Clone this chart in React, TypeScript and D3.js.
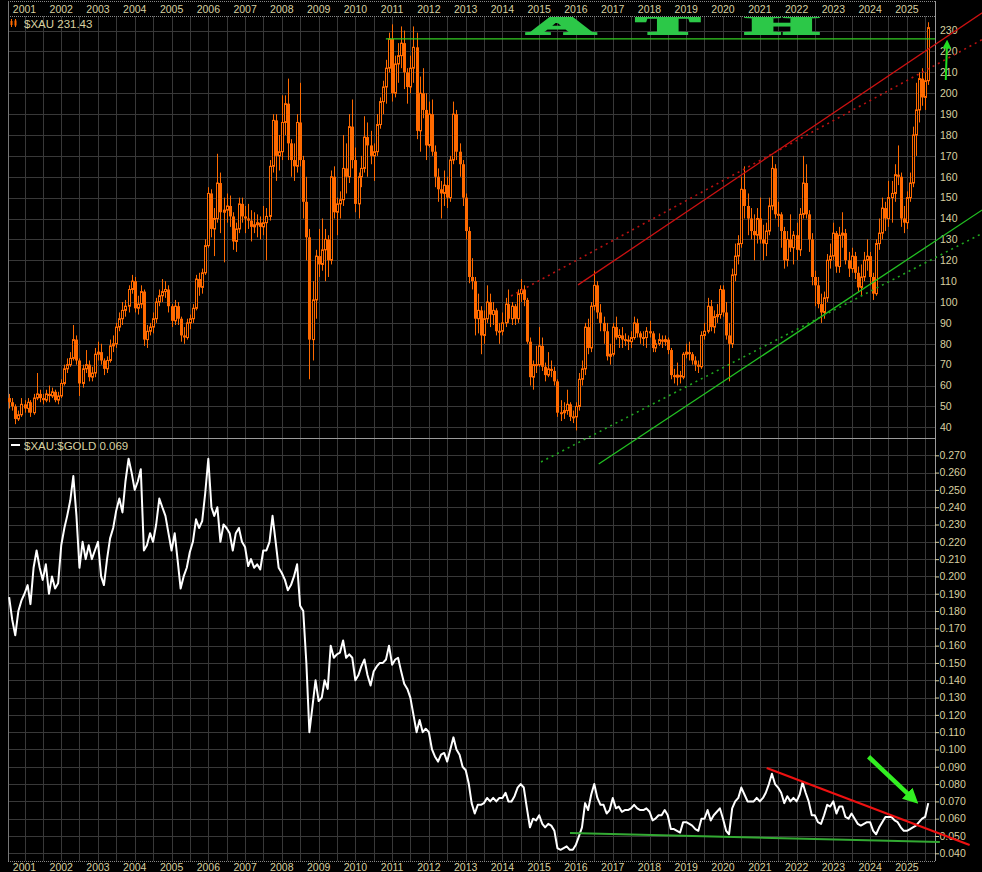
import * as d3 from 'd3';
import { useEffect } from 'react';

// monthly $XAU candles, Aug 2000 .. Aug 2025 (open = previous close)
const xauFirstOpen = 54;
const xauClose = [
  52, 50, 44, 46, 51,
  49, 52, 47, 54, 56, 54, 53, 56, 55, 57, 53, 55,
  61, 68, 70, 73, 82, 72, 61, 68, 70, 64, 66, 75,
  76, 72, 68, 72, 79, 80, 88, 92, 96, 98, 106, 110,
  97, 99, 105, 82, 86, 88, 92, 100, 103, 105, 106, 98,
  91, 98, 92, 84, 83, 90, 92, 97, 111, 107, 114, 127,
  152, 135, 140, 157, 143, 144, 146, 141, 129, 135, 147, 141,
  140, 139, 136, 137, 138, 136, 138, 141, 165, 187, 170, 172,
  186, 195, 176, 168, 165, 186, 168, 148, 131, 82, 101, 122,
  118, 125, 130, 120, 160, 143, 147, 149, 164, 160, 184, 168,
  147, 160, 164, 179, 175, 170, 172, 185, 196, 203, 212, 226,
  200, 214, 218, 224, 210, 203, 212, 222, 182, 200, 192, 175,
  190, 172, 160, 154, 152, 156, 150, 168, 190, 172, 166, 150,
  134, 112, 110, 92, 96, 84, 92, 100, 94, 96, 86, 86,
  90, 99, 92, 98, 92, 104, 106, 101, 81, 64, 70, 70,
  79, 69, 65, 68, 67, 62, 47, 47, 48, 51, 45, 45,
  50, 63, 68, 88, 78, 98, 108, 95, 90, 86, 74, 75,
  88, 83, 84, 82, 82, 81, 83, 90, 85, 83, 83, 86,
  85, 78, 80, 82, 81, 82, 77, 65, 64, 65, 64, 75,
  76, 75, 72, 70, 69, 84, 86, 98, 88, 93, 94, 106,
  95, 84, 80, 113, 122, 128, 154, 146, 140, 134, 132, 140,
  130, 128, 134, 146, 164, 142, 142, 134, 120, 130, 126, 132,
  125, 142, 157, 142, 130, 112, 108, 99, 95, 102, 120, 122,
  133, 117, 132, 133, 120, 116, 122, 114, 107, 112, 120, 122,
  112, 104, 128, 133, 145, 140, 150, 152, 161, 160, 140, 138,
  150, 157, 180, 192, 207, 198, 206, 231.43,
];
const xauHigh = [
  56, 54, 51, 48, 54,
  53, 54, 53, 56, 66, 58, 56, 58, 60, 59, 58, 57,
  63, 70, 73, 76, 89, 84, 73, 70, 77, 72, 69, 78,
  81, 80, 73, 74, 82, 84, 90, 95, 100, 101, 108, 113,
  112, 103, 108, 106, 89, 90, 95, 102, 106, 111, 110, 108,
  99, 101, 100, 93, 88, 92, 94, 99, 113, 114, 116, 130,
  155, 154, 145, 171, 162, 150, 152, 151, 143, 138, 150, 150,
  146, 147, 144, 143, 142, 141, 146, 145, 168, 190, 190, 180,
  199, 199, 207, 178, 176, 190, 205, 170, 160, 135, 110, 125,
  135, 140, 135, 132, 163, 165, 150, 153, 180, 176, 190, 197,
  174, 162, 170, 189, 186, 182, 176, 190, 198, 206, 216, 229,
  233, 218, 224, 232, 230, 212, 218, 232, 229, 208, 212, 200,
  196, 197, 175, 164, 158, 163, 160, 170, 196, 192, 176, 168,
  152, 136, 121, 112, 104, 98, 96, 108, 104, 100, 97, 90,
  95, 102, 106, 100, 99, 106, 111, 108, 102, 83, 72, 79,
  88, 83, 71, 76, 72, 69, 63, 53, 52, 58, 52, 48,
  52, 66, 72, 90, 92, 100, 115, 110, 99, 93, 90, 80,
  90, 93, 87, 88, 85, 84, 86, 93, 92, 86, 86, 88,
  91, 86, 82, 85, 84, 84, 83, 78, 68, 71, 67, 76,
  80, 81, 76, 74, 72, 86, 90, 102, 101, 96, 99, 108,
  108, 100, 90, 116, 128, 132, 160, 165, 152, 145, 142, 145,
  150, 137, 138, 150, 170, 166, 148, 143, 136, 134, 142, 134,
  138, 145, 170, 166, 144, 133, 115, 112, 104, 105, 123, 128,
  138, 134, 136, 143, 135, 124, 126, 124, 117, 118, 124, 130,
  124, 114, 130, 140, 150, 148, 158, 158, 166, 175, 162, 146,
  153, 162, 184, 205, 210, 212, 210, 234,
];
const xauLow = [
  49, 48, 41.5, 43, 45,
  47, 47, 45, 46, 53, 52, 51, 52, 52, 54, 52, 51,
  54, 60, 66, 69, 72, 70, 55, 59, 66, 62, 62, 64,
  72, 70, 65, 66, 71, 76, 78, 86, 89, 93, 95, 104,
  95, 94, 97, 79, 78, 84, 85, 90, 98, 100, 102, 95,
  88, 89, 89, 81, 80, 82, 87, 90, 96, 103, 104, 113,
  126, 131, 122, 138, 133, 119, 138, 136, 125, 124, 133, 138,
  133, 135, 129, 133, 131, 130, 132, 120, 139, 162, 158, 163,
  168, 180, 168, 160, 158, 162, 165, 140, 120, 63, 72, 92,
  112, 115, 110, 112, 118, 140, 132, 140, 146, 152, 157, 164,
  143, 140, 155, 162, 160, 166, 158, 170, 183, 190, 195, 210,
  196, 198, 205, 212, 202, 195, 200, 205, 178, 172, 188, 168,
  174, 170, 155, 148, 140, 146, 145, 148, 166, 168, 160, 146,
  130, 109, 106, 84, 85, 75, 80, 90, 88, 89, 84, 80,
  84, 88, 90, 89, 89, 90, 100, 98, 80, 60, 58, 66,
  69, 67, 62, 64, 64, 60, 45, 43, 44, 46, 43, 42,
  38.5, 48, 60, 65, 75, 76, 96, 92, 86, 80, 72, 70,
  74, 82, 78, 78, 79, 77, 78, 82, 83, 80, 79, 78,
  83, 76, 76, 79, 78, 79, 75, 63, 61, 60, 61, 63,
  73, 72, 70, 67, 66, 68, 82, 85, 86, 85, 90, 92,
  93, 82, 62, 78, 110, 118, 126, 140, 132, 130, 120, 128,
  128, 120, 122, 132, 144, 140, 136, 126, 116, 117, 124, 118,
  120, 122, 140, 140, 124, 108, 98, 97, 90, 92, 100, 116,
  120, 114, 114, 126, 118, 112, 114, 111, 105, 103, 110, 115,
  108, 101, 103, 125, 130, 134, 136, 138, 148, 156, 136, 133,
  135, 148, 155, 170, 186, 194, 192, 204,
];
// $XAU:$GOLD monthly ratio, same months
const ratio = [
  0.188, 0.175, 0.166, 0.180, 0.186,
  0.190, 0.195, 0.184, 0.205, 0.215, 0.205, 0.198, 0.207, 0.190, 0.200, 0.193, 0.196,
  0.218, 0.228, 0.235, 0.244, 0.258, 0.235, 0.205, 0.220, 0.210, 0.218, 0.210, 0.215,
  0.220, 0.200, 0.195, 0.210, 0.222, 0.228, 0.238, 0.245, 0.237, 0.255, 0.268, 0.260,
  0.250, 0.255, 0.262, 0.215, 0.218, 0.225, 0.220, 0.230, 0.245, 0.240, 0.235, 0.225,
  0.215, 0.225, 0.210, 0.193, 0.200, 0.205, 0.214, 0.220, 0.233, 0.228, 0.232, 0.248,
  0.268, 0.240, 0.235, 0.240, 0.220, 0.230, 0.228, 0.225, 0.215, 0.225, 0.228, 0.220,
  0.217, 0.206, 0.210, 0.205, 0.207, 0.204, 0.215, 0.215, 0.220, 0.235, 0.220, 0.205,
  0.202, 0.198, 0.192, 0.195, 0.200, 0.207, 0.183, 0.180, 0.150, 0.110, 0.125, 0.140,
  0.128, 0.130, 0.140, 0.135, 0.160, 0.153, 0.155, 0.156, 0.163, 0.153, 0.155, 0.153,
  0.140, 0.143, 0.148, 0.152, 0.143, 0.137, 0.145, 0.148, 0.150, 0.150, 0.152, 0.160,
  0.149, 0.152, 0.153, 0.145, 0.138, 0.135, 0.130, 0.120, 0.110, 0.117, 0.110, 0.112,
  0.110, 0.100, 0.096, 0.093, 0.097, 0.098, 0.093, 0.100, 0.107, 0.100, 0.097, 0.090,
  0.088, 0.080, 0.069, 0.063, 0.068, 0.068, 0.069, 0.072, 0.070, 0.072, 0.070, 0.072,
  0.072, 0.075, 0.070, 0.070, 0.073, 0.078, 0.080, 0.078, 0.066, 0.055, 0.060, 0.059,
  0.062, 0.057, 0.055, 0.057, 0.056, 0.053, 0.043, 0.042, 0.043, 0.044, 0.042, 0.042,
  0.045, 0.050, 0.055, 0.069, 0.065, 0.074, 0.080, 0.072, 0.068, 0.068, 0.063, 0.065,
  0.072, 0.066, 0.067, 0.064, 0.065, 0.065, 0.066, 0.068, 0.066, 0.065, 0.065, 0.066,
  0.064, 0.059, 0.060, 0.062, 0.062, 0.065, 0.062, 0.054, 0.054, 0.053, 0.052, 0.058,
  0.058, 0.057, 0.056, 0.054, 0.053, 0.060, 0.060, 0.065, 0.059, 0.062, 0.064, 0.066,
  0.060, 0.053, 0.051, 0.066, 0.070, 0.072, 0.078, 0.074, 0.070, 0.070, 0.070, 0.072,
  0.070, 0.072, 0.075, 0.080, 0.086, 0.080, 0.078, 0.075, 0.069, 0.073, 0.070, 0.072,
  0.070, 0.074, 0.081, 0.075, 0.070, 0.062, 0.062, 0.058, 0.057, 0.062, 0.068, 0.067,
  0.070, 0.063, 0.067, 0.067, 0.061, 0.060, 0.063, 0.060, 0.057, 0.056, 0.057, 0.058,
  0.058, 0.053, 0.051, 0.055, 0.058, 0.061, 0.061, 0.061, 0.059, 0.058, 0.055, 0.053,
  0.053, 0.054, 0.055, 0.056, 0.058, 0.060, 0.061, 0.069,
];

const yearLabels = d3.range(2001, 2026);
const priceTicks = d3.range(40, 231, 10);
const ratioTicks = d3.range(4, 28).map((v) => v / 100);

// annotations, in date / value units
const topLines = [
  { a: [new Date(2010, 9, 31), 226], b: [new Date(2025, 9, 7), 226], color: '#33cc22', dash: null },
  { a: [new Date(2016, 0, 22), 108.2], b: [new Date(2027, 0, 19), 238.5], color: '#cc1111', dash: null },
  { a: [new Date(2014, 2, 27), 102.9], b: [new Date(2027, 0, 19), 225.7], color: '#bb1111', dash: '2,4' },
  { a: [new Date(2016, 7, 14), 22.4], b: [new Date(2027, 0, 19), 144.1], color: '#22c022', dash: null },
  { a: [new Date(2015, 0, 19), 23.4], b: [new Date(2027, 0, 19), 132.9], color: '#1fa81f', dash: '2,4' },
];
const topArrow = { a: [new Date(2026, 0, 22), 206.3], b: [new Date(2026, 1, 3), 223.5] };
const bottomLines = [
  { a: [new Date(2021, 2, 10), 0.0893], b: [new Date(2026, 8, 16), 0.0448], color: '#ee1111', w: 2.2 },
  { a: [new Date(2015, 10, 3), 0.0517], b: [new Date(2025, 10, 24), 0.0465], color: '#33aa33', w: 2 },
];
const bottomArrow = { a: [new Date(2023, 11, 17), 0.0958], b: [new Date(2025, 1, 17), 0.0723] };
const athLetters = [
  { ch: 'A', date: new Date(2015, 7, 8) },
  { ch: 'T', date: new Date(2018, 6, 2) },
  { ch: 'H', date: new Date(2021, 7, 8) },
];

const W = 982;
const H = 872;
const L = 8;
const R = 935;
const TOP = 16;
const MID = 438;
const BOT = 861;
const ORANGE = '#ff6a00';
const LABEL = '#d8d0a0';
const GRID = '#383838';
const FONT = 'Liberation Sans, Arial, sans-serif';

const x = d3.scaleTime().domain([new Date(2000, 6, 21), new Date(2025, 9, 7)]).range([L, R]);
const yTop = d3.scaleLinear().domain([40, 230]).range([427.3, 30.6]);
const yBot = d3.scaleLinear().domain([0.04, 0.27]).range([853.3, 455.3]);

const bars = xauClose.map((c, i) => ({
  date: new Date(2000, 7 + i, 1),
  open: i === 0 ? xauFirstOpen : xauClose[i - 1],
  close: c,
  high: xauHigh[i],
  low: xauLow[i],
}));
const ratioPts = ratio.map((r, i) => ({ date: new Date(2000, 7 + i, 1), r }));

const halfYears = x.ticks(d3.timeMonth.every(6));
const ratioLine = d3
  .line<{ date: Date; r: number }>()
  .x((d) => x(d.date))
  .y((d) => yBot(d.r));

export default function App() {
  useEffect(() => {
    document.body.style.margin = '0';
    document.body.style.background = '#000';
  }, []);

  const fmt = d3.format('.3f');

  return (
    <svg width={W} height={H} style={{ display: 'block', background: '#000' }} fontFamily={FONT}>
      <defs>
        <linearGradient id='athGrad' gradientUnits='userSpaceOnUse' x1='0' y1={TOP} x2='0' y2={33}>
          <stop offset='0' stopColor='#2cc848' />
          <stop offset='0.4' stopColor='#86dc94' />
          <stop offset='1' stopColor='#ffffff' />
        </linearGradient>
        <clipPath id='topClip'>
          <rect x={L} y={TOP + 1} width={R - L} height={MID - TOP} />
        </clipPath>
        <marker id='arrUp' viewBox='0 0 10 10' refX='5' refY='5' markerWidth='4.5' markerHeight='4.5' orient='auto'>
          <path d='M0,0 L10,5 L0,10 z' fill='#22dd22' />
        </marker>
        <marker id='arrDn' viewBox='0 0 10 10' refX='4' refY='5' markerWidth='3.4' markerHeight='3.4' orient='auto'>
          <path d='M0,0 L10,5 L0,10 z' fill='#33ee22' />
        </marker>
      </defs>
      <rect width={W} height={H} fill='#000' />

      {/* grid */}
      <g stroke={GRID} strokeWidth={1}>
        {halfYears.map((d, i) => (
          <line key={'v' + i} x1={Math.round(x(d)) + 0.5} x2={Math.round(x(d)) + 0.5} y1={TOP} y2={BOT} />
        ))}
        {priceTicks.map((v) => (
          <line key={'p' + v} x1={L} x2={R} y1={Math.round(yTop(v)) + 0.5} y2={Math.round(yTop(v)) + 0.5} />
        ))}
        {ratioTicks.map((v) => (
          <line key={'r' + v} x1={L} x2={R} y1={Math.round(yBot(v)) + 0.5} y2={Math.round(yBot(v)) + 0.5} />
        ))}
      </g>

      {/* frames */}
      <g fill='none'>
        <line x1={L} x2={R} y1={1.5} y2={1.5} stroke='#888' strokeDasharray='1,1' />
        <line x1={L} x2={R} y1={TOP + 0.5} y2={TOP + 0.5} stroke='#888' strokeDasharray='1,1' />
        <line x1={L} x2={R} y1={BOT + 0.5} y2={BOT + 0.5} stroke='#888' strokeDasharray='1,1' />
        <line x1={L + 0.5} x2={L + 0.5} y1={1} y2={BOT} stroke='#777' />
        <line x1={R + 0.5} x2={R + 0.5} y1={1} y2={BOT} stroke='#999' />
        <line x1={L} x2={R} y1={MID + 0.5} y2={MID + 0.5} stroke='#9a9a9a' />
      </g>

      {/* date labels */}
      <g fill={LABEL} fontSize={10.5} textAnchor='middle'>
        {yearLabels.map((yr) => (
          <text key={'t' + yr} x={x(new Date(yr, 0, 1))} y={13}>
            {yr}
          </text>
        ))}
        {yearLabels.map((yr) => (
          <text key={'b' + yr} x={x(new Date(yr, 0, 1))} y={870.5}>
            {yr}
          </text>
        ))}
      </g>

      {/* right axes */}
      <g fill={LABEL} fontSize={10.5}>
        {priceTicks.map((v) => (
          <text key={'pl' + v} x={940} y={yTop(v) + 3.8}>
            {v}
          </text>
        ))}
        {ratioTicks.map((v) => (
          <g key={'rl' + v}>
            <line x1={935} x2={939} y1={yBot(v) + 0.5} y2={yBot(v) + 0.5} stroke={LABEL} />
            <text x={939.5} y={yBot(v) + 3.8}>
              {fmt(v)}
            </text>
          </g>
        ))}
      </g>

      {/* ATH */}
      <g
        clipPath='url(#topClip)'
        fill='url(#athGrad)'
        stroke='url(#athGrad)'
        strokeWidth={2.2}
        strokeLinejoin='miter'
        fontFamily='Liberation Serif, Times New Roman, serif'
        fontWeight='bold'
        fontSize={27}
      >
        {athLetters.map((l) => (
          <text key={l.ch} textAnchor='middle' transform={`translate(${x(l.date)},${yTop(228.6)}) scale(3.4,1)`}>
            {l.ch}
          </text>
        ))}
      </g>

      {/* candles */}
      <g>
        {bars.map((b, i) => {
          const cx = Math.round(x(b.date)) + 0.5;
          const top = yTop(Math.max(b.open, b.close));
          const bot = yTop(Math.min(b.open, b.close));
          const h = Math.max(1, bot - top);
          const down = b.close < b.open;
          return (
            <g key={i}>
              <line x1={cx} x2={cx} y1={yTop(b.high)} y2={yTop(b.low)} stroke={ORANGE} strokeWidth={1} />
              {down ? (
                <rect x={cx - 1.5} y={top} width={3} height={h} fill={ORANGE} />
              ) : (
                <rect x={cx - 1} y={top} width={2} height={h} fill='#000' stroke={ORANGE} strokeWidth={1} />
              )}
            </g>
          );
        })}
      </g>

      {/* top annotations */}
      {topLines.map((ln, i) => (
        <line
          key={'tl' + i}
          x1={x(ln.a[0] as Date)}
          y1={yTop(ln.a[1] as number)}
          x2={x(ln.b[0] as Date)}
          y2={yTop(ln.b[1] as number)}
          stroke={ln.color}
          strokeWidth={ln.dash ? 1.6 : 1.3}
          strokeDasharray={ln.dash || undefined}
        />
      ))}
      <line
        x1={x(topArrow.a[0] as Date)}
        y1={yTop(topArrow.a[1] as number)}
        x2={x(topArrow.b[0] as Date)}
        y2={yTop(topArrow.b[1] as number)}
        stroke='#22dd22'
        strokeWidth={2}
        markerEnd='url(#arrUp)'
      />

      {/* ratio */}
      <path d={ratioLine(ratioPts) || ''} fill='none' stroke='#fff' strokeWidth={2} strokeLinejoin='round' />
      {bottomLines.map((ln, i) => (
        <line
          key={'bl' + i}
          x1={x(ln.a[0] as Date)}
          y1={yBot(ln.a[1] as number)}
          x2={x(ln.b[0] as Date)}
          y2={yBot(ln.b[1] as number)}
          stroke={ln.color}
          strokeWidth={ln.w}
        />
      ))}
      <line
        x1={x(bottomArrow.a[0] as Date)}
        y1={yBot(bottomArrow.a[1] as number)}
        x2={x(bottomArrow.b[0] as Date)}
        y2={yBot(bottomArrow.b[1] as number)}
        stroke='#33ee22'
        strokeWidth={4.5}
        markerEnd='url(#arrDn)'
      />

      {/* legends */}
      <g>
        <line x1={11.5} x2={11.5} y1={19} y2={27} stroke={ORANGE} />
        <rect x={10.5} y={21} width={2} height={4} fill={ORANGE} />
        <line x1={15.5} x2={15.5} y1={19} y2={27} stroke={ORANGE} />
        <rect x={14.5} y={20.5} width={2} height={5} fill={ORANGE} />
        <text x={24} y={27.5} fill={LABEL} fontSize={11.5}>
          $XAU 231.43
        </text>
        <rect x={11} y={444} width={9} height={2} fill='#fff' />
        <text x={24} y={449.5} fill={LABEL} fontSize={11.5}>
          $XAU:$GOLD 0.069
        </text>
      </g>
    </svg>
  );
}
